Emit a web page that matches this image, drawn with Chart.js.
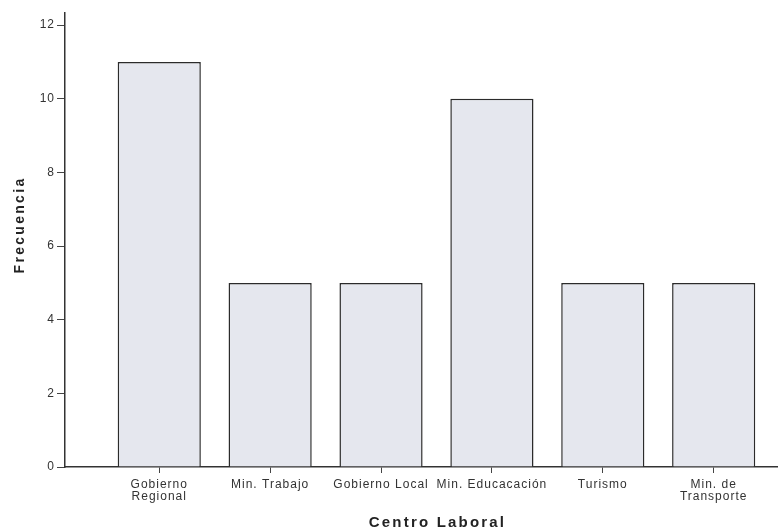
<!DOCTYPE html>
<html>
<head>
<meta charset="utf-8">
<script src="https://cdn.jsdelivr.net/npm/chart.js@4"></script>
<style>
  html, body { margin: 0; padding: 0; background: #fff; }
  #wrap { width: 778px; height: 532px; }
</style>
</head>
<body>
<div id="wrap"><canvas id="chart"></canvas></div>
<script>
// Centro Laboral frequencies
const categories = [
  ['Gobierno', 'Regional'],
  'Min. Trabajo',
  'Gobierno Local',
  'Min. Educacación',
  'Turismo',
  ['Min. de', 'Transporte']
];
const frecuencia = [11, 5, 5, 10, 5, 5];
const yTicks = [0, 2, 4, 6, 8, 10, 12];

const points = frecuencia.map((v, i) => ({ x: i + 1, y: v }));

// the scanned original has wide, spaced-out lettering
function spaced(scale, method, spacing, dx, dy) {
  const orig = scale[method];
  scale[method] = function () {
    const ctx = this.ctx;
    ctx.save();
    ctx.letterSpacing = spacing;
    ctx.translate(dx, dy);
    orig.apply(this, arguments);
    ctx.restore();
  };
}

const spacedText = {
  id: 'spacedText',
  afterLayout(chart) {
    const { x, y } = chart.scales;
    if (x._spaced) return;
    spaced(x, 'drawTitle', '2.2px', 16, 2);
    spaced(y, 'drawTitle', '2.3px', 0, -15);
    spaced(x, 'drawLabels', '1px', 0, 0);
    spaced(y, 'drawLabels', '1px', 0, 0);
    x._spaced = true;
  }
};

const ctx = document.getElementById('chart').getContext('2d');
const chart = new Chart(ctx, {
  type: 'bar',
  data: {
    datasets: [{
      data: points,
      backgroundColor: '#e5e7ee',
      borderColor: '#2b2b2b',
      borderWidth: 1.5,
      barPercentage: 0.75,
      categoryPercentage: 1.0
    }]
  },
  options: {
    responsive: true,
    maintainAspectRatio: false,
    animation: false,
    layout: { padding: { top: 13, right: 0, left: 0, bottom: 0 } },
    plugins: {
      legend: { display: false },
      tooltip: { enabled: false }
    },
    scales: {
      x: {
        type: 'linear',
        min: 0.15,
        max: 6.58,
        offset: false,
        afterBuildTicks(scale) {
          scale.ticks = categories.map((c, i) => ({ value: i + 1 }));
        },
        afterFit(scale) { scale.height = 65; },
        grid: {
          offset: false,
          drawOnChartArea: false,
          drawTicks: true,
          tickLength: 6,
          color: '#444',
          lineWidth: 1
        },
        border: { display: true, color: '#333', width: 1.5 },
        ticks: {
          autoSkip: false,
          maxRotation: 0,
          padding: 6,
          color: '#333',
          font: { family: 'Liberation Sans, Arial, sans-serif', size: 12, lineHeight: 1.0 },
          callback: (v) => categories[Math.round(v) - 1]
        },
        title: {
          display: true,
          text: 'Centro Laboral',
          color: '#222',
          padding: { top: 0, bottom: 2 },
          font: { family: 'Liberation Sans, Arial, sans-serif', size: 15, weight: 'bold' }
        }
      },
      y: {
        min: 0,
        max: 12.33,
        afterBuildTicks(scale) {
          scale.ticks = yTicks.map(v => ({ value: v }));
        },
        afterFit(scale) { scale.width = 65; },
        grid: {
          drawOnChartArea: false,
          drawTicks: true,
          tickLength: 8,
          color: '#444',
          lineWidth: 1
        },
        border: { display: true, color: '#333', width: 1.5 },
        ticks: {
          padding: 2,
          color: '#333',
          font: { family: 'Liberation Sans, Arial, sans-serif', size: 12 }
        },
        title: {
          display: true,
          text: 'Frecuencia',
          color: '#222',
          padding: { top: 12, bottom: 0 },
          font: { family: 'Liberation Sans, Arial, sans-serif', size: 14, weight: 'bold' }
        }
      }
    }
  },
  plugins: [spacedText]
});
</script>
</body>
</html>
